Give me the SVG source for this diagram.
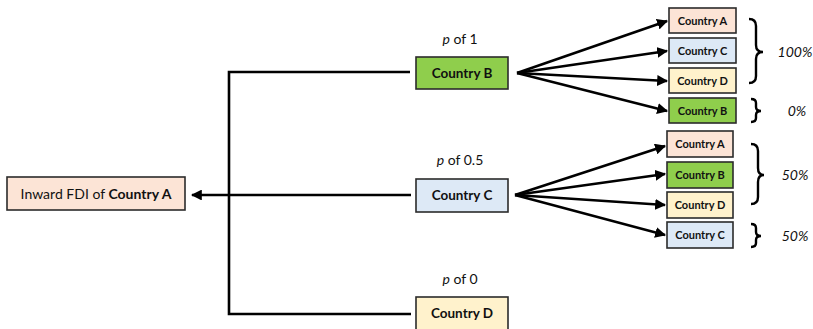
<svg xmlns="http://www.w3.org/2000/svg" width="813" height="329" viewBox="0 0 813 329">
<defs>
<style>
.box{stroke:#2b2b2b;stroke-width:1.6}
.pe{fill:#fce4d6}.bl{fill:#dde9f6}.ye{fill:#fff2cc}.gr{fill:#8fce4c}
.t{font-family:Lato,"Liberation Sans",sans-serif;fill:#111;text-anchor:middle}
.big{font-size:13.5px;font-weight:bold}
.sm{font-size:11px;font-weight:bold}
.lab{font-size:14px}
.pct{font-size:14px;font-style:italic}
.ln{stroke:#000;stroke-width:2.6;fill:none}
.br{stroke:#000;stroke-width:2.4;fill:none}
</style>
<marker id="ah" viewBox="0 0 10 10" refX="9" refY="5" markerWidth="4.2" markerHeight="4.2" orient="auto" markerUnits="strokeWidth">
<path d="M0,0 L10,5 L0,10 z" fill="#000"/>
</marker>
</defs>
<rect width="813" height="329" fill="#fff"/>

<g id="connectors">
<path class="ln" d="M410,72 H229 V314 H411"/>
<path class="ln" d="M411,195 H192" marker-end="url(#ah)"/>
<path class="ln" d="M517,73 L667,21" marker-end="url(#ah)"/>
<path class="ln" d="M517,73 L667,51" marker-end="url(#ah)"/>
<path class="ln" d="M517,73 L667,81" marker-end="url(#ah)"/>
<path class="ln" d="M517,73 L667,111" marker-end="url(#ah)"/>
<path class="ln" d="M515,195 L665,146" marker-end="url(#ah)"/>
<path class="ln" d="M515,195 L665,174" marker-end="url(#ah)"/>
<path class="ln" d="M515,195 L665,205" marker-end="url(#ah)"/>
<path class="ln" d="M515,195 L665,235" marker-end="url(#ah)"/>
</g>

<g id="fdiA">
<rect class="box pe" x="7" y="177" width="178" height="33"/>
<text class="t lab" x="96" y="198.5">Inward FDI of <tspan font-weight="bold">Country A</tspan></text>
</g>

<g id="countryB">
<text class="t lab" x="460" y="44"><tspan font-style="italic">p</tspan> of 1</text>
<rect class="box gr" x="416" y="57" width="92" height="32"/>
<text class="t big" x="462" y="77.5">Country B</text>
</g>

<g id="countryC">
<text class="t lab" x="460" y="165"><tspan font-style="italic">p</tspan> of 0.5</text>
<rect class="box bl" x="416" y="179" width="92" height="33"/>
<text class="t big" x="462" y="200">Country C</text>
</g>

<g id="countryD">
<text class="t lab" x="460" y="284"><tspan font-style="italic">p</tspan> of 0</text>
<rect class="box ye" x="416" y="297" width="92" height="36"/>
<text class="t big" x="462" y="317.5">Country D</text>
</g>

<g id="b_A">
<rect class="box pe" x="669" y="8" width="67" height="25"/>
<text class="t sm" x="702.5" y="24.5">Country A</text>
</g>
<g id="b_C">
<rect class="box bl" x="669" y="38" width="67" height="25"/>
<text class="t sm" x="702.5" y="54.5">Country C</text>
</g>
<g id="b_D">
<rect class="box ye" x="669" y="68" width="67" height="25"/>
<text class="t sm" x="702.5" y="84.5">Country D</text>
</g>
<g id="b_B">
<rect class="box gr" x="669" y="98" width="67" height="25"/>
<text class="t sm" x="702.5" y="114.5">Country B</text>
</g>

<g id="c_A">
<rect class="box pe" x="667" y="131" width="66" height="26"/>
<text class="t sm" x="700" y="148">Country A</text>
</g>
<g id="c_B">
<rect class="box gr" x="667" y="162" width="66" height="26"/>
<text class="t sm" x="700" y="179">Country B</text>
</g>
<g id="c_D">
<rect class="box ye" x="667" y="192" width="66" height="26"/>
<text class="t sm" x="700" y="209">Country D</text>
</g>
<g id="c_C">
<rect class="box bl" x="667" y="222" width="66" height="26"/>
<text class="t sm" x="700" y="239">Country C</text>
</g>

<g id="braces">
<path class="br" d="M749,19 Q756,19 756,26 V45 Q756,52 763,52 Q756,52 756,59 V76 Q756,83 749,83"/>
<text class="t pct" x="795" y="56.5">100%</text>
<path class="br" d="M751,99 Q756,99 756,103 V107 Q756,111 761,111 Q756,111 756,115 V118 Q756,122 751,122"/>
<text class="t pct" x="797" y="115.5">0%</text>
<path class="br" d="M751,144 Q758,144 758,151 V168 Q758,175 764,175 Q758,175 758,182 V197 Q758,204 751,204"/>
<text class="t pct" x="795" y="179.5">50%</text>
<path class="br" d="M751,224 Q756,224 756,228 V232 Q756,236 761,236 Q756,236 756,240 V243 Q756,247 751,247"/>
<text class="t pct" x="795" y="240.5">50%</text>
</g>
</svg>
